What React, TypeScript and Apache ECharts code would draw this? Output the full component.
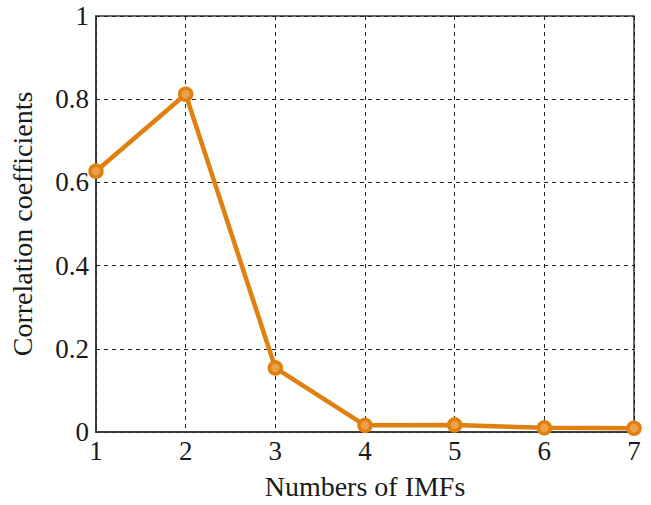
import React, { useEffect, useRef } from "react";
import * as echarts from "echarts";

const imfNumbers = [1, 2, 3, 4, 5, 6, 7];
const correlation = [0.627, 0.812, 0.154, 0.016, 0.017, 0.01, 0.009];
const xTitle = "Numbers of IMFs";
const yTitle = "Correlation coefficients";

export default function App() {
  const ref = useRef<HTMLDivElement>(null);
  useEffect(() => {
    if (!ref.current) return;
    const chart = echarts.init(ref.current, undefined, { renderer: "svg" });
    const font = "'Liberation Serif', 'Times New Roman', serif";
    chart.setOption({
      animation: false,
      backgroundColor: "#ffffff",
      grid: {
        left: 86,
        right: 17,
        top: 16,
        bottom: 68,
        show: true,
        borderColor: "#333333",
        borderWidth: 1.5,
        backgroundColor: "transparent",
      },
      xAxis: {
        type: "value",
        min: 1,
        max: 7,
        interval: 1,
        name: xTitle,
        nameLocation: "middle",
        nameGap: 40,
        nameTextStyle: { fontFamily: font, fontSize: 28, color: "#1a1a1a" },
        axisLine: { show: true, lineStyle: { color: "#333333", width: 1.5 } },
        axisTick: { show: false },
        axisLabel: { fontFamily: font, fontSize: 27, color: "#1a1a1a", margin: 5 },
        splitLine: { show: true, lineStyle: { color: "#222222", type: [4, 4], width: 1 } },
      },
      yAxis: {
        type: "value",
        min: 0,
        max: 1,
        interval: 0.2,
        name: yTitle,
        nameLocation: "middle",
        nameGap: 60,
        nameRotate: 90,
        nameTextStyle: { fontFamily: font, fontSize: 28, color: "#1a1a1a" },
        axisLine: { show: true, lineStyle: { color: "#333333", width: 1.5 } },
        axisTick: { show: false },
        axisLabel: { fontFamily: font, fontSize: 27, color: "#1a1a1a", margin: 7 },
        splitLine: { show: true, lineStyle: { color: "#222222", type: [4, 4], width: 1 } },
      },
      series: [
        {
          type: "line",
          data: imfNumbers.map((x, i) => [x, correlation[i]]),
          symbol: "circle",
          symbolSize: 12,
          lineStyle: { color: "#e08010", width: 4.5 },
          itemStyle: { color: "#eca04a", borderColor: "#e08010", borderWidth: 3.5 },
          clip: false,
          z: 5,
        },
      ],
    });
    return () => chart.dispose();
  }, []);
  return (
    <div
      ref={ref}
      style={{ position: "fixed", left: 0, top: 0, width: 651, height: 505 }}
    />
  );
}
